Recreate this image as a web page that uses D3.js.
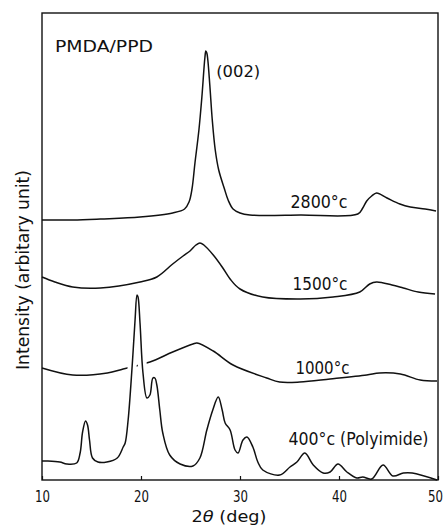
<!DOCTYPE html>
<html>
<head>
<meta charset="utf-8">
<script src="https://cdn.jsdelivr.net/npm/d3@7"></script>
<style>
  html, body { margin: 0; padding: 0; background: #fff; }
  text { font-family: "DejaVu Sans", sans-serif; fill: #111; }
</style>
</head>
<body>
<svg id="chart" width="446" height="528"></svg>
<script>
// X-ray diffraction traces, 2theta (deg) vs intensity (arbitrary, stacked offsets)
const xTicks = [10, 20, 30, 40, 50];

const trace2800 = [
  [10.0, 260], [13.1, 260], [15.9, 261], [19.9, 263], [23.2, 267], [24.4, 271],
  [24.85, 278], [25.15, 291], [25.45, 317], [25.85, 350], [26.15, 383], [26.45, 422],
  [26.55, 429], [26.65, 427], [26.75, 420], [26.95, 395], [27.2, 360], [27.5, 330],
  [27.85, 310], [28.4, 292], [28.8, 280], [29.3, 271], [30.0, 267], [31.0, 265],
  [36.1, 265], [41.9, 266], [42.4, 272], [42.8, 279], [43.3, 284], [43.8, 287],
  [44.85, 282], [46.15, 276], [47.2, 273], [48.7, 271], [49.8, 269]
];

const trace1500 = [
  [10.0, 203], [11.3, 198], [13.1, 193], [15.9, 192], [19.9, 198], [21.6, 203],
  [23.2, 216], [24.25, 224], [24.95, 229], [25.55, 235], [25.95, 237], [26.35, 235],
  [27.3, 225], [28.2, 213], [29.0, 201], [30.0, 191], [32.3, 183], [36.1, 181],
  [39.4, 183], [42.1, 188], [43.1, 196], [43.8, 198], [45.35, 195], [46.5, 192],
  [48.0, 188], [49.7, 186]
];

const trace1000 = [
  [10.0, 112], [13.1, 105], [16.6, 107], [18.2, 111], [20.9, 118], [23.2, 128],
  [25.25, 136], [25.65, 137], [27.3, 129], [29.3, 115], [32.7, 102], [34.0, 98],
  [36.05, 98], [39.1, 101], [42.8, 105], [44.1, 107], [46.2, 106], [48.2, 100],
  [49.9, 99]
];

const trace400 = [
  [10.0, 19], [10.6, 19], [11.8, 18], [12.5, 16], [13.5, 17], [13.85, 27],
  [14.1, 48], [14.4, 59], [14.6, 55], [14.8, 40], [15.1, 22], [15.65, 18],
  [16.55, 18], [17.6, 22], [18.2, 33], [18.4, 37], [18.7, 60], [19.1, 113],
  [19.4, 160], [19.6, 185], [19.7, 183], [19.9, 157], [20.2, 107], [20.6, 82],
  [20.9, 85], [21.2, 102], [21.4, 102], [21.6, 95], [21.9, 70], [22.2, 47],
  [22.9, 25], [23.95, 16], [25.25, 14], [25.95, 22], [26.65, 50], [27.25, 70],
  [27.8, 83], [28.2, 70], [28.5, 57], [29.0, 50], [29.5, 30], [29.8, 27],
  [30.3, 40], [30.7, 43], [31.3, 33], [31.8, 18], [32.3, 10], [34.0, 5],
  [35.05, 13], [35.75, 18], [36.55, 27], [37.4, 15], [38.4, 7], [39.1, 8],
  [39.9, 16], [40.8, 8], [41.8, 2], [42.4, 3], [43.3, 1], [44.45, 15],
  [45.45, 4], [46.5, 7], [47.4, 7], [49.9, 0]
];

const traceLabels = [
  { text: "2800°c", x: 35.1, y: 272, len: 57 },
  { text: "1500°c", x: 35.3, y: 190, len: 55 },
  { text: "1000°c", x: 35.6, y: 106, len: 54 },
  { text: "400°c (Polyimide)", x: 34.9, y: 35, len: 140 }
];

// Layout
const svg = d3.select("#chart");
const margin = { left: 42, right: 8, top: 13, bottom: 48 };
const width = 446, height = 528;

const x = d3.scaleLinear()
    .domain([10, 50])
    .range([margin.left, width - margin.right]);
const y = d3.scaleLinear()
    .domain([0, 467])
    .range([height - margin.bottom, margin.top]);

const line = d3.line()
    .x(d => x(d[0]))
    .y(d => y(d[1]))
    .curve(d3.curveCatmullRom.alpha(0.5));

// Upper traces
[trace2800, trace1500, trace1000].forEach(tr => {
    svg.append("path")
        .datum(tr)
        .attr("d", line)
        .attr("fill", "none")
        .attr("stroke", "#111")
        .attr("stroke-width", 1.5)
        .attr("stroke-linejoin", "round");
});

// Polyimide trace, with a white halo so it hides the 1000 trace where they cross
svg.append("path")
    .datum(trace400)
    .attr("d", line)
    .attr("fill", "none")
    .attr("stroke", "#fff")
    .attr("stroke-width", 9);
svg.append("path")
    .datum(trace400)
    .attr("d", line)
    .attr("fill", "none")
    .attr("stroke", "#111")
    .attr("stroke-width", 1.5)
    .attr("stroke-linejoin", "round");

// Frame
svg.append("rect")
    .attr("x", x(10))
    .attr("y", y(467))
    .attr("width", x(50) - x(10))
    .attr("height", y(0) - y(467))
    .attr("fill", "none")
    .attr("stroke", "#111")
    .attr("stroke-width", 1.4);

// X axis: inner ticks + labels
const xAxis = d3.axisBottom(x)
    .tickValues(xTicks)
    .tickSize(-4)
    .tickPadding(10)
    .tickFormat(d3.format("d"));

const gx = svg.append("g")
    .attr("transform", "translate(0," + y(0) + ")")
    .call(xAxis);
gx.select(".domain").remove();
gx.selectAll(".tick line").attr("stroke", "#111").attr("stroke-width", 1.2);
gx.selectAll(".tick text")
    .attr("y", 22)
    .attr("dy", null)
    .attr("x", d => d === 50 ? -3 : 0)
    .attr("textLength", 15)
    .attr("lengthAdjust", "spacingAndGlyphs")
    .style("font-size", "15px")
    .style("font-family", "DejaVu Sans, sans-serif")
    .attr("fill", "#111");

// Axis titles
const xt = svg.append("text")
    .attr("x", 229)
    .attr("y", 522)
    .attr("text-anchor", "middle")
    .style("font-size", "15px")
    .attr("textLength", 75)
    .attr("lengthAdjust", "spacingAndGlyphs");
xt.append("tspan").text("2");
xt.append("tspan").style("font-style", "italic").text("θ");
xt.append("tspan").text(" (deg)");

svg.append("text")
    .attr("transform", "translate(29,270) rotate(-90)")
    .attr("text-anchor", "middle")
    .style("font-size", "17px")
    .attr("textLength", 200)
    .attr("lengthAdjust", "spacingAndGlyphs")
    .text("Intensity (arbitary unit)");

// Annotations
svg.append("text")
    .attr("x", 55)
    .attr("y", 52)
    .style("font-size", "15px")
    .attr("textLength", 98)
    .attr("lengthAdjust", "spacingAndGlyphs")
    .text("PMDA/PPD");

svg.append("text")
    .attr("x", x(27.6))
    .attr("y", 77)
    .style("font-size", "16px")
    .attr("textLength", 44)
    .attr("lengthAdjust", "spacingAndGlyphs")
    .text("(002)");

svg.selectAll(".trace-label")
    .data(traceLabels)
    .join("text")
    .attr("class", "trace-label")
    .attr("x", d => x(d.x))
    .attr("y", d => y(d.y))
    .style("font-size", "17.5px")
    .attr("textLength", d => d.len)
    .attr("lengthAdjust", "spacingAndGlyphs")
    .text(d => d.text);
</script>
</body>
</html>
